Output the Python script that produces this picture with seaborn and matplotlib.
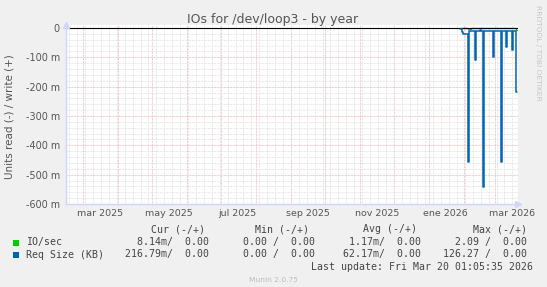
import matplotlib
matplotlib.use("Agg")
import matplotlib.pyplot as plt
import matplotlib.dates as mdates
import matplotlib.ticker as mticker
import matplotlib.transforms as mtransforms
from matplotlib.patches import Rectangle
import seaborn as sns
import pandas as pd

# ---------------- data ----------------
# IO/sec, read side (values in milli-units, negative = read)
io_dates = ["2026-01-29", "2026-02-05", "2026-02-07", "2026-03-19", "2026-03-20"]
io_read_milli = [0, -3, 0, -8, -8]

# Req Size (KB), read side (milli-units), step changes
req_dates = ["2026-01-29", "2026-01-30", "2026-01-31", "2026-02-05", "2026-02-06",
             "2026-02-11", "2026-02-12", "2026-02-15", "2026-02-16", "2026-02-18",
             "2026-02-19", "2026-02-27", "2026-02-28", "2026-03-06", "2026-03-07",
             "2026-03-10", "2026-03-11", "2026-03-16", "2026-03-17", "2026-03-19",
             "2026-03-20"]
req_read_milli = [-3, -15, -20, -457, -11,
                  -109, -11, -8, -11, -541,
                  -11, -99, -11, -458, -11,
                  -64, -11, -74, -11, -217,
                  -217]

x_start, x_end = "2025-02-14", "2026-03-21"
x_label_dates = ["2025-03-16", "2025-05-16", "2025-07-16", "2025-09-16",
                 "2025-11-16", "2026-01-16", "2026-03-16"]
x_label_texts = ["mar 2025", "may 2025", "jul 2025", "sep 2025",
                 "nov 2025", "ene 2026", "mar 2026"]
y_ticks_milli = [0, -100, -200, -300, -400, -500, -600]

title = "IOs for /dev/loop3 - by year"
y_label = "Units read (-) / write (+)"
legend_names = ["IO/sec", "Req Size (KB)"]
legend_colors = ["#00CC00", "#0066B3"]
legend_headers = ["Cur (-/+)", "Min (-/+)", "Avg (-/+)", "Max (-/+)"]
legend_rows = [["8.14m/  0.00", "0.00 /  0.00", "1.17m/  0.00", "2.09 /  0.00"],
               ["216.79m/  0.00", "0.00 /  0.00", "62.17m/  0.00", "126.27 /  0.00"]]
last_update = "Last update: Fri Mar 20 01:05:35 2026"
munin_version = "Munin 2.0.75"
rrd_credit = "RRDTOOL / TOBI OETIKER"

# ---------------- figure ----------------
sns.set_style("white")
plt.rcParams["font.family"] = ["DejaVu Sans"]

W, H = 547, 287
def fx(x): return x / W
def fy(y): return 1 - y / H

fig = plt.figure(figsize=(W / 100, H / 100), dpi=100)
fig.patch.set_facecolor("#F0F0F0")
ax = fig.add_axes([fx(66), fy(204), (518 - 66) / W, (204 - 25) / H])
ax.set_facecolor("white")

io_df = pd.DataFrame({"date": pd.to_datetime(io_dates), "value": io_read_milli})
req_df = pd.DataFrame({"date": pd.to_datetime(req_dates), "value": req_read_milli})

sns.lineplot(data=io_df, x="date", y="value", ax=ax, color=legend_colors[0],
             drawstyle="steps-post", linewidth=1.0, estimator=None, zorder=3)
ax.axhline(0, color="black", linewidth=0.8, zorder=4)
sns.lineplot(data=req_df, x="date", y="value", ax=ax, color=legend_colors[1],
             drawstyle="steps-post", linewidth=1.1, estimator=None, zorder=5)

ax.set_xlim(pd.Timestamp(x_start), pd.Timestamp(x_end))
ax.set_ylim(-600, 10.2)
ax.set_xlabel("")
ax.set_ylabel("")

ax.xaxis.set_major_locator(mdates.MonthLocator())
ax.xaxis.set_minor_locator(mdates.WeekdayLocator(byweekday=mdates.MO))
ax.yaxis.set_major_locator(mticker.FixedLocator(y_ticks_milli))
ax.yaxis.set_minor_locator(mticker.MultipleLocator(20))
ax.yaxis.set_major_formatter(mticker.FuncFormatter(
    lambda v, p: "0" if abs(v) < 1e-9 else f"{int(round(v))} m"))

dot = (0, (0.75, 0.75))
ax.grid(which="minor", color="#e0e0e0", linestyle=dot, linewidth=0.7, zorder=0)
ax.grid(which="major", color="#f4b4b4", linestyle=dot, linewidth=0.7, zorder=1)
ax.set_axisbelow(True)

ax.tick_params(axis="x", which="both", labelbottom=False)
ax.tick_params(axis="both", which="major", direction="inout", length=4,
               width=0.7, color="#e08080")
ax.tick_params(axis="both", which="minor", direction="inout", length=3,
               width=0.7, color="#c4c4c4")
ax.tick_params(axis="y", which="major", labelsize=6.9, labelcolor="#555555", pad=2.5)

for s in ["top", "right"]:
    ax.spines[s].set_visible(False)
for s in ["left", "bottom"]:
    ax.spines[s].set_color("#CFD6F8")
    ax.spines[s].set_linewidth(1.0)

# axis arrows
ax.plot([1.0], [0.0], marker=">", markersize=5, color="#CFD6F8",
        transform=ax.transAxes, clip_on=False, zorder=6)
ax.plot([0.0], [1.0], marker="^", markersize=5, color="#CFD6F8",
        transform=ax.transAxes, clip_on=False, zorder=6)

# x labels centred mid-month
lab_tr = mtransforms.blended_transform_factory(ax.transData, fig.transFigure)
for d, t in zip(x_label_dates, x_label_texts):
    xx = mdates.date2num(pd.Timestamp(d))
    ax.text(xx, fy(213), t, transform=lab_tr,
            ha="center", va="center", fontsize=6.8, color="#555555")

# texts
fig.text(fx(273), fy(19), title, ha="center", va="center", fontsize=9, color="#555555")
fig.text(fx(10), fy(117), y_label, rotation=90, ha="center", va="center",
         fontsize=7.5, color="#555555")
fig.text(fx(538), fy(53), rrd_credit, rotation=270, ha="center", va="center",
         fontsize=5.4, color="#c6c6c6")

mono = "DejaVu Sans Mono"
fs = 7.1
header_centers = [178, 282, 390, 500]
for c, h in zip(header_centers, legend_headers):
    fig.text(fx(c), fy(229), h, ha="center", va="center", family=mono,
             fontsize=fs, color="#444444")
col_right = [209, 315, 421, 527]
row_y = [242, 254.5]
for name, col, vals, yy in zip(legend_names, legend_colors, legend_rows, row_y):
    fig.patches.append(Rectangle((fx(13), fy(yy + 3.5)), 6 / W, 6 / H,
                                 transform=fig.transFigure, facecolor=col,
                                 edgecolor="none"))
    fig.text(fx(26), fy(yy), name, ha="left", va="center", family=mono,
             fontsize=fs, color="#444444")
    for r, v in zip(col_right, vals):
        fig.text(fx(r), fy(yy), v, ha="right", va="center", family=mono,
                 fontsize=fs, color="#444444")
fig.text(fx(533), fy(266.5), last_update, ha="right", va="center", family=mono,
         fontsize=fs, color="#444444")
fig.text(fx(273), fy(280), munin_version, ha="center", va="center",
         fontsize=5.4, color="#bdbdbd")

fig.savefig("out.png", dpi=100, facecolor=fig.get_facecolor())
